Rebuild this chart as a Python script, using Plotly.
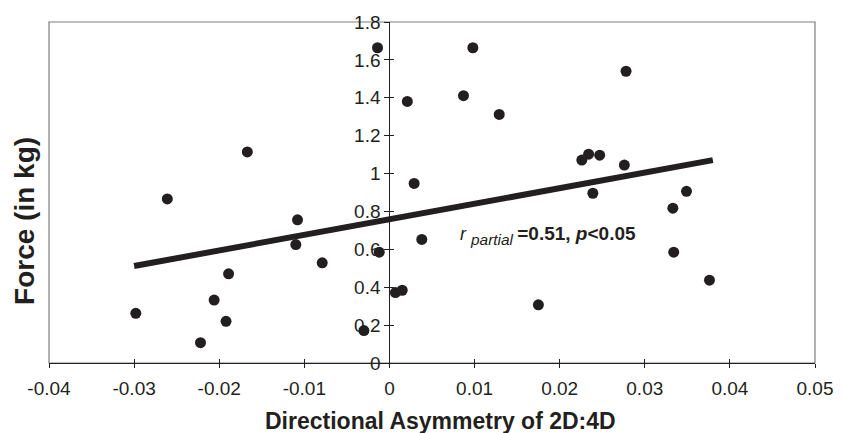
import plotly.graph_objects as go

# ---- data ----
asym_2d4d = [-0.0014, 0.0021, -0.0167, -0.0261, -0.0108, 0.0029, 0.0098, 0.0087,
             0.0129, 0.0278, 0.0226, 0.0234, 0.0247, 0.0276, 0.0239, 0.0349,
             0.0333, -0.0298, -0.0222, -0.0206, -0.0192, -0.0189, -0.0110, -0.0079,
             -0.0012, -0.0030, 0.0007, 0.0015, 0.0038, 0.0334, 0.0376, 0.0175]
force_kg = [1.664, 1.381, 1.114, 0.866, 0.756, 0.948, 1.664, 1.411,
            1.312, 1.540, 1.071, 1.102, 1.097, 1.045, 0.896, 0.906,
            0.817, 0.262, 0.107, 0.332, 0.220, 0.471, 0.625, 0.529,
            0.585, 0.171, 0.372, 0.384, 0.652, 0.585, 0.437, 0.307]

fit_x = [-0.0300, 0.0380]
fit_y = [0.512, 1.071]

x_tickvals = [-0.04, -0.03, -0.02, -0.01, 0, 0.01, 0.02, 0.03, 0.04, 0.05]
x_ticktext = ["-0.04", "-0.03", "-0.02", "-0.01", "0", "0.01", "0.02", "0.03", "0.04", "0.05"]
y_tickvals = [0, 0.2, 0.4, 0.6, 0.8, 1.0, 1.2, 1.4, 1.6, 1.8]
y_ticktext = ["0", "0.2", "0.4", "0.6", "0.8", "1", "1.2", "1.4", "1.6", "1.8"]

x_title = "Directional Asymmetry of 2D:4D"
y_title = "Force (in kg)"
stat_text = ('<span style="font-size:18px"><i>r</i> </span>'
             '<sub><i>partial </i></sub>'
             '<span style="font-size:19px"><b>=0.51, <i>p</i>&lt;0.05</b></span>')

INK = "#231f20"
FONT = "Liberation Sans, Arial, sans-serif"
X_RANGE = [-0.04, 0.05]
Y_RANGE = [0, 1.8]
Y_POS = (0 - X_RANGE[0]) / (X_RANGE[1] - X_RANGE[0])

fig = go.Figure()
fig.add_trace(go.Scatter(x=fit_x, y=fit_y, mode="lines",
                         line=dict(color=INK, width=6), showlegend=False,
                         hoverinfo="skip"))
fig.add_trace(go.Scatter(x=asym_2d4d, y=force_kg, mode="markers",
                         marker=dict(color=INK, size=11), showlegend=False))
# helper (empty) trace for the cross-tick overlay axes
fig.add_trace(go.Scatter(x=[], y=[], xaxis="x2", yaxis="y2", showlegend=False))

fig.update_layout(
    width=845, height=433,
    margin=dict(l=49, r=21, t=19, b=70),
    paper_bgcolor="white", plot_bgcolor="white",
    font=dict(family=FONT, color=INK, size=19),
    xaxis=dict(range=X_RANGE, tickvals=x_tickvals, ticktext=x_ticktext,
               showgrid=False, zeroline=False, showline=True, linecolor=INK,
               linewidth=1.2, ticks="outside", ticklen=4, tickcolor=INK,
               tickfont=dict(size=19, color=INK), ticklabelstandoff=4),
    yaxis=dict(range=Y_RANGE, tickvals=y_tickvals, ticktext=y_ticktext,
               showgrid=False, zeroline=False, showline=True, linecolor=INK,
               linewidth=1.2, ticks="outside", ticklen=5, tickcolor=INK,
               anchor="free", position=Y_POS,
               tickfont=dict(size=19, color=INK)),
    xaxis2=dict(range=X_RANGE, tickvals=x_tickvals, overlaying="x", anchor="y2",
                showgrid=False, zeroline=False, showline=False, ticks="inside",
                ticklen=4, tickcolor=INK, showticklabels=False),
    yaxis2=dict(range=Y_RANGE, tickvals=y_tickvals, overlaying="y", anchor="free",
                position=Y_POS, showgrid=False, zeroline=False, showline=False,
                ticks="inside", ticklen=4, tickcolor=INK, showticklabels=False),
    shapes=[dict(type="rect", xref="paper", yref="paper", x0=0, x1=1, y0=0, y1=1,
                 line=dict(color="#7f7f7f", width=1.2), layer="below")],
    annotations=[
        dict(text=x_title, xref="paper", yref="paper", x=0.5106, y=-0.17,
             xanchor="center", yanchor="middle", showarrow=False,
             font=dict(size=23, family=FONT, color=INK, weight="bold")),
        dict(text=y_title, xref="paper", yref="paper", x=-0.032, y=0.418,
             xanchor="center", yanchor="middle", textangle=-90, showarrow=False,
             font=dict(size=28, family=FONT, color=INK, weight="bold")),
        dict(text=stat_text, xref="x", yref="y", x=0.0080, y=0.674,
             xanchor="left", yanchor="middle", showarrow=False,
             font=dict(size=22, family=FONT, color=INK)),
    ],
)

fig.write_html("out.html", config={"displayModeBar": False},
               post_script="document.body.style.margin='0';document.body.style.overflow='hidden';")
